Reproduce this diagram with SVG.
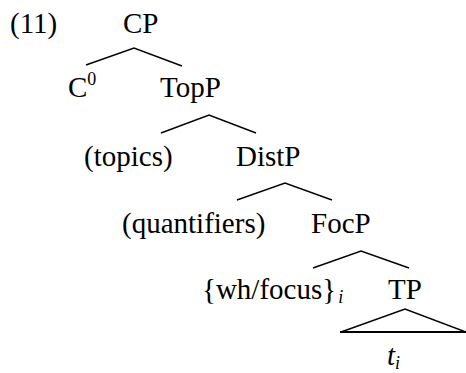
<svg xmlns="http://www.w3.org/2000/svg" width="466" height="373" viewBox="0 0 466 373">
<style>
.t{font-family:'Liberation Serif','Times New Roman',Times,serif;font-size:29px;fill:#000}
.sm{font-size:18px}
.it{font-style:italic}
.ln{stroke:#000;stroke-width:1.4;fill:none}
</style>
<rect width="466" height="373" fill="#fff"/>
<text class="t" x="10" y="33">(11)</text>
<g id="CP"><text class="t" x="123" y="33">CP</text></g>
<g id="C0"><text class="t" x="68" y="97">C<tspan class="sm" dy="-12">0</tspan></text></g>
<g id="TopP"><text class="t" x="160" y="97">TopP</text></g>
<g id="topics"><text class="t" x="84" y="166">(topics)</text></g>
<g id="DistP"><text class="t" x="236" y="166">DistP</text></g>
<g id="quantifiers"><text class="t" x="122" y="233">(quantifiers)</text></g>
<g id="FocP"><text class="t" x="311" y="233">FocP</text></g>
<g id="whfocus"><text class="t" x="202" y="299">{wh/focus}<tspan class="sm it" dx="2" dy="4">i</tspan></text></g>
<g id="TP"><text class="t" x="388" y="299">TP</text></g>
<g id="ti"><text class="t it" x="387" y="365">t<tspan class="sm" dy="4">i</tspan></text></g>
<g id="connectors">
<polyline class="ln" points="86,65 134,48 182,66"/>
<polyline class="ln" points="161,133 209,115 256,133"/>
<polyline class="ln" points="237,200 285,183 332,200"/>
<polyline class="ln" points="313,268 361,251 409,268"/>
<polyline class="ln" points="341,332 405,309 466,332"/>
<line x1="340" y1="332" x2="466" y2="332" stroke="#000" stroke-width="2.2"/>
</g>
</svg>
